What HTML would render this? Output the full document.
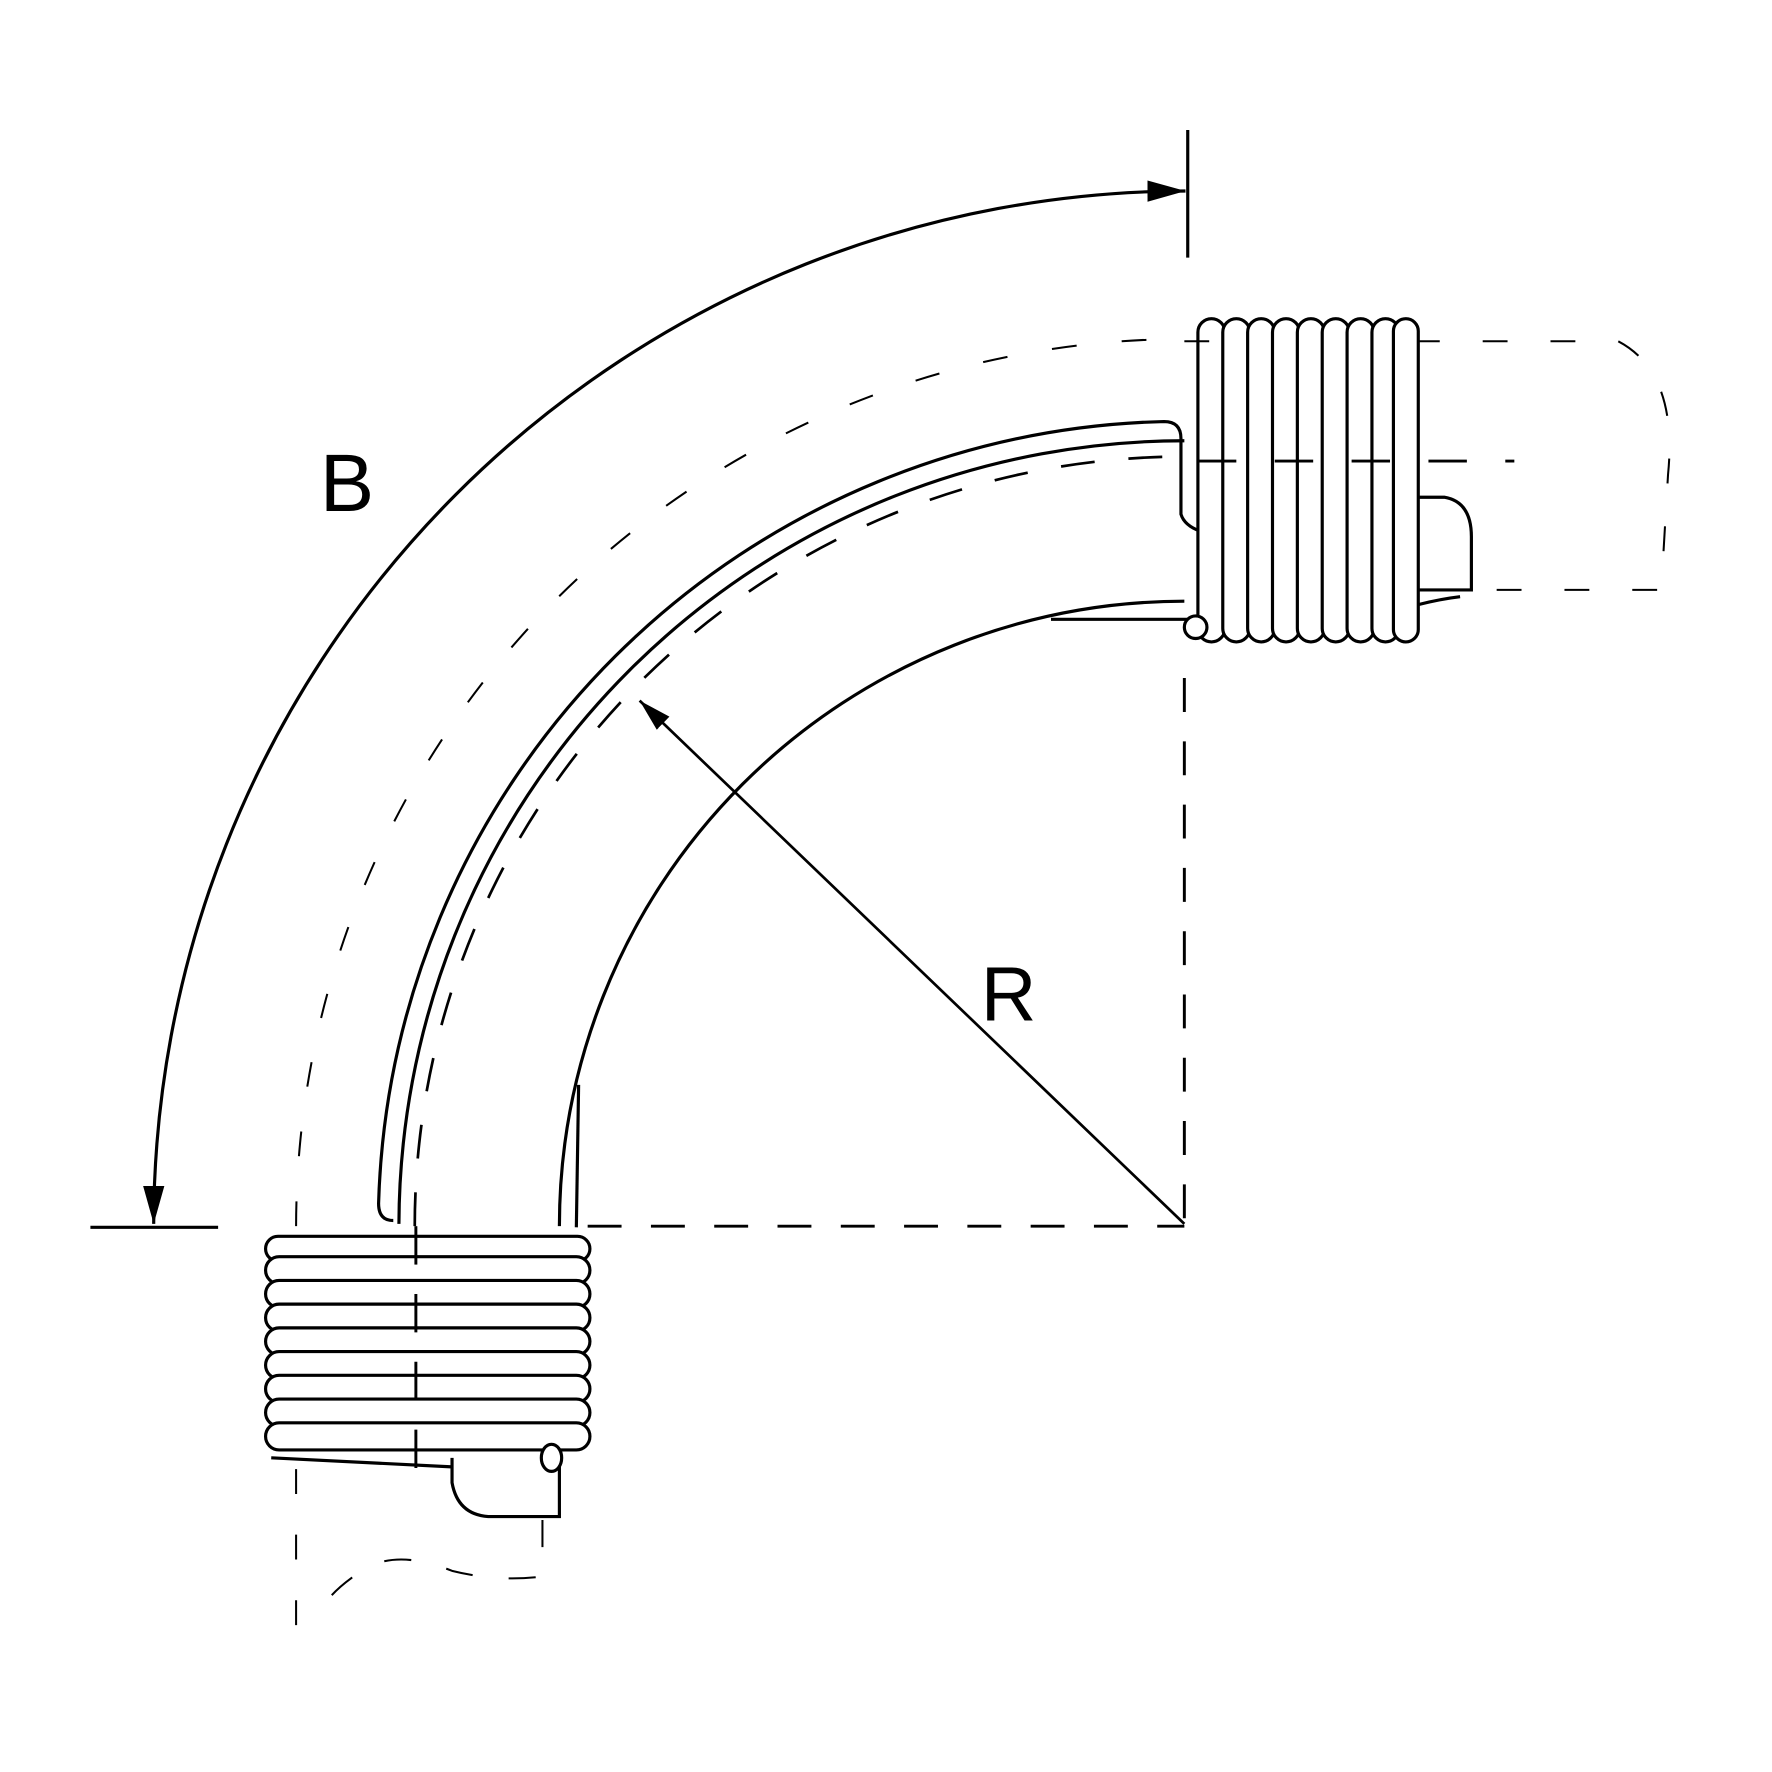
<!DOCTYPE html>
<html><head><style>html,body{margin:0;padding:0;background:#fff}svg{display:block}</style></head>
<body>
<svg width="1772" height="1772" viewBox="0 0 1568 1568" xmlns="http://www.w3.org/2000/svg" fill="none" stroke="#000" stroke-width="2.8" stroke-linecap="butt">
<defs>
<marker id="ah" viewBox="0 0 10 10" refX="10" refY="5" markerWidth="12" markerHeight="12" orient="auto-start-reverse" markerUnits="strokeWidth">
<path d="M0,2.2 L10,5 L0,7.8 Z" fill="#000" stroke="none"/></marker>
</defs>
<!-- dimension ticks -->
<line x1="1051" y1="115" x2="1051" y2="228"/>
<line x1="80" y1="1086" x2="193" y2="1086"/>
<!-- B arc -->
<path d="M136,1083 A915,915 0 0 1 1049,169" marker-start="url(#ah)" marker-end="url(#ah)"/>
<!-- outer dashed arc -->
<path d="M262,1085 A786,786 0 0 1 1048,300" stroke-width="1.8" stroke-dasharray="22,40"/>
<!-- outer solid tube lines -->
<path d="M348,1080 Q335,1080 335,1065 A713,713 0 0 1 1030,373 Q1045,373 1045,388 L1045,455 Q1048,465 1062,470"/>
<path d="M353,1083 A695,695 0 0 1 1048,390"/>
<!-- dashed centerline arc -->
<path d="M367,1085 A681,681 0 0 1 1048,404" stroke-width="2.4" stroke-dasharray="30,30"/>
<!-- inner solid arc -->
<path d="M495,1085 A553,553 0 0 1 1048,532"/>
<path d="M512,960 L510,1086"/>
<path d="M930,548 L1055,548"/>
<!-- center dashed lines -->
<line x1="1048" y1="600" x2="1048" y2="1085" stroke-width="2.6" stroke-dasharray="30,26"/>
<line x1="520" y1="1085" x2="1048" y2="1085" stroke-width="2.6" stroke-dasharray="30,26"/>
<!-- R leader -->
<line x1="1048" y1="1083" x2="566" y2="620" stroke-width="2.4" marker-end="url(#ah)"/>
<!-- right dashed pipe -->
<path d="M1252,302 L1432,302 Q1485,330 1476,420 L1470,522 L1300,522" stroke-width="1.8" stroke-dasharray="22,38"/>
<!-- right tab -->
<path d="M1255,440 L1278,440 Q1302,444 1302,475 L1302,522 L1255,522"/>
<path d="M1255,535 Q1275,530 1292,528"/>
<!-- right coil -->
<g fill="#fff">
<rect x="1060" y="282" width="24" height="286" rx="12"/>
<rect x="1082" y="282" width="24" height="286" rx="12"/>
<rect x="1104" y="282" width="24" height="286" rx="12"/>
<rect x="1126" y="282" width="24" height="286" rx="12"/>
<rect x="1148" y="282" width="24" height="286" rx="12"/>
<rect x="1170" y="282" width="24" height="286" rx="12"/>
<rect x="1192" y="282" width="24" height="286" rx="12"/>
<rect x="1214" y="282" width="24" height="286" rx="12"/>
<rect x="1233" y="282" width="22" height="286" rx="11"/>
<circle cx="1058" cy="555" r="10"/>
</g>
<line x1="1060" y1="408" x2="1340" y2="408" stroke-width="2.6" stroke-dasharray="34,34"/>
<line x1="1048" y1="302" x2="1070" y2="302" stroke-width="1.8"/>
<!-- left dashed pipe -->
<path d="M262,1300 L262,1450" stroke-width="1.8" stroke-dasharray="22,36"/>
<path d="M480,1345 L480,1395 Q440,1400 400,1390 Q350,1370 320,1390 Q290,1410 285,1425" stroke-width="1.8" stroke-dasharray="24,32"/>
<!-- left tab -->
<path d="M400,1290 L400,1312 Q405,1340 432,1342 L495,1342 L495,1290"/>
<path d="M240,1290 L400,1298"/>
<!-- left coil -->
<g fill="#fff">
<rect x="235" y="1094" width="287" height="22" rx="11"/>
<rect x="235" y="1112" width="287" height="24" rx="12"/>
<rect x="235" y="1133" width="287" height="24" rx="12"/>
<rect x="235" y="1154" width="287" height="24" rx="12"/>
<rect x="235" y="1175" width="287" height="24" rx="12"/>
<rect x="235" y="1196" width="287" height="24" rx="12"/>
<rect x="235" y="1217" width="287" height="24" rx="12"/>
<rect x="235" y="1238" width="287" height="24" rx="12"/>
<rect x="235" y="1259" width="287" height="24" rx="12"/>
<ellipse cx="488" cy="1290" rx="9" ry="12"/>
</g>
<line x1="368" y1="1085" x2="368" y2="1312" stroke-width="2.6" stroke-dasharray="34,26"/>
<text x="283" y="452" font-family="Liberation Sans, sans-serif" font-size="72" fill="#000" stroke="none">B</text>
<text x="868" y="903" font-family="Liberation Sans, sans-serif" font-size="68" fill="#000" stroke="none">R</text>
</svg>
</body></html>
